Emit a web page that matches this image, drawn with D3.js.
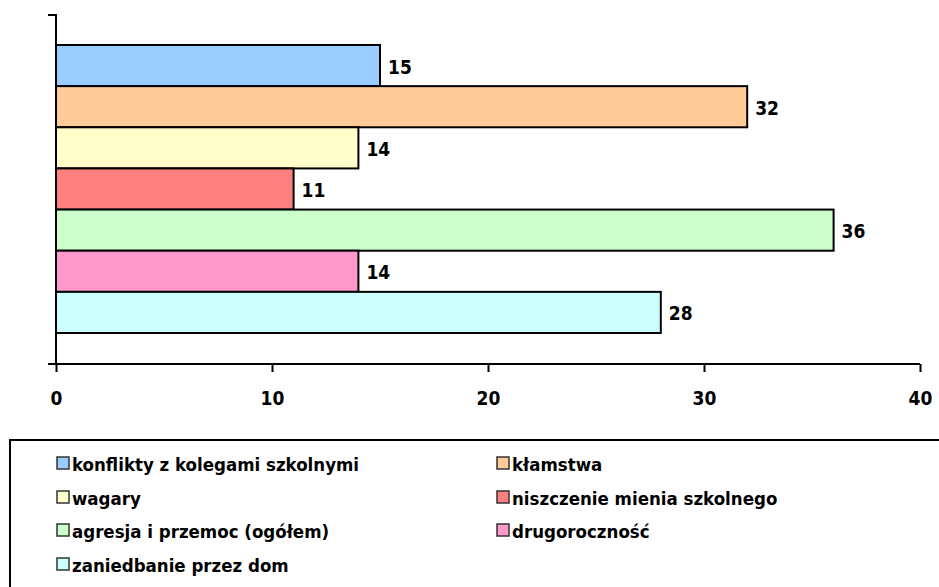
<!DOCTYPE html>
<html>
<head>
<meta charset="utf-8">
<script src="https://cdn.jsdelivr.net/npm/d3@7"></script>
<style>
  html, body { margin: 0; padding: 0; background: #fff; }
  svg { display: block; font-family: "DejaVu Sans Condensed", "DejaVu Sans", sans-serif; font-stretch: condensed; }
</style>
</head>
<body>
<div id="chart"></div>
<script>
// --- data ---
const categories = [
  "konflikty z kolegami szkolnymi",
  "kłamstwa",
  "wagary",
  "niszczenie mienia szkolnego",
  "agresja i przemoc (ogółem)",
  "drugoroczność",
  "zaniedbanie przez dom"
];
const values = [15, 32, 14, 11, 36, 14, 28];
const colorsList = ["#99CCFF", "#FFCC99", "#FFFFCC", "#FF8080", "#CCFFCC", "#FF99CC", "#CCFFFF"];
const xTicks = [0, 10, 20, 30, 40];

// --- dimensions ---
const width = 939, height = 587;
const plot = { left: 56, right: 920, top: 15, bottom: 364 };
const font = "'DejaVu Sans Condensed', 'DejaVu Sans', sans-serif";

const svg = d3.select("#chart").append("svg")
  .attr("width", width).attr("height", height);

const x = d3.scaleLinear().domain([0, 40]).range([plot.left, plot.right]);
const y = d3.scaleBand().domain(categories)
  .range([plot.top + 30, plot.bottom - 31]);

// bars
svg.append("g").selectAll("rect")
  .data(categories)
  .join("rect")
  .attr("x", x(0))
  .attr("y", d => y(d))
  .attr("width", (d, i) => x(values[i]) - x(0))
  .attr("height", y.bandwidth())
  .attr("fill", (d, i) => colorsList[i])
  .attr("stroke", "#000")
  .attr("stroke-width", 2);

// value labels
svg.append("g").selectAll("text")
  .data(categories)
  .join("text")
  .attr("x", (d, i) => x(values[i]) + 8)
  .attr("y", d => y(d) + y.bandwidth() / 2 + 1)
  .attr("dominant-baseline", "central")
  .style("font-family", font)
  .style("font-size", "19px")
  .style("font-weight", "bold")
  .text((d, i) => values[i]);

// x axis
const xAxis = svg.append("g")
  .attr("transform", `translate(0,${plot.bottom})`)
  .call(d3.axisBottom(x).tickValues(xTicks).tickSize(8).tickPadding(20).tickSizeOuter(0));
xAxis.select(".domain").attr("stroke", "#000").attr("stroke-width", 2)
  .attr("d", `M${plot.left - 8},0H${plot.right}`);
xAxis.selectAll(".tick line").attr("stroke", "#000").attr("stroke-width", 2);
xAxis.selectAll(".tick text")
  .style("font-family", font)
  .style("font-size", "19px").style("font-weight", "bold").attr("fill", "#000");

// y axis (category axis, ticks only at band edges)
const yAxis = svg.append("g").attr("transform", `translate(${plot.left},0)`);
yAxis.append("path")
  .attr("d", `M-8,${plot.top}H0V${plot.bottom}`)
  .attr("fill", "none").attr("stroke", "#000").attr("stroke-width", 2);

// legend
const legend = svg.append("g");
legend.append("rect")
  .attr("x", 10).attr("y", 440).attr("width", 940).attr("height", 160)
  .attr("fill", "#fff").attr("stroke", "#000").attr("stroke-width", 2);

const colX = [57, 497];
const rowY = [463, 497, 530, 564];
const items = legend.selectAll("g.item")
  .data(categories)
  .join("g")
  .attr("class", "item")
  .attr("transform", (d, i) => `translate(${colX[i % 2]},${rowY[Math.floor(i / 2)]})`);
items.append("rect")
  .attr("x", 0).attr("y", -6).attr("width", 12).attr("height", 12)
  .attr("fill", (d, i) => colorsList[i])
  .attr("stroke", "#333").attr("stroke-width", 1.5);
items.append("text")
  .attr("x", 15).attr("y", 1)
  .attr("dominant-baseline", "central")
  .style("font-family", font)
  .style("font-size", "18.5px").style("font-weight", "bold")
  .text(d => d);
</script>
</body>
</html>
